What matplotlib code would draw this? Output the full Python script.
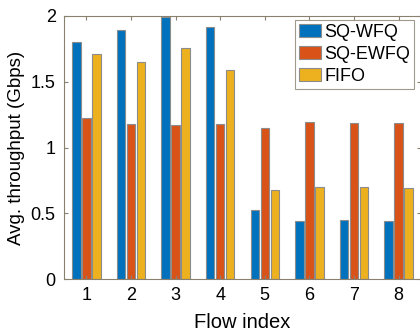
import numpy as np
import matplotlib
matplotlib.use("Agg")
import matplotlib.pyplot as plt

plt.rcParams['font.family'] = ['Liberation Sans', 'DejaVu Sans']

flows = [1, 2, 3, 4, 5, 6, 7, 8]
sq_wfq = [1.80, 1.89, 1.99, 1.92, 0.525, 0.44, 0.445, 0.443]
sq_ewfq = [1.225, 1.18, 1.17, 1.18, 1.15, 1.195, 1.19, 1.19]
fifo = [1.71, 1.65, 1.76, 1.59, 0.677, 0.697, 0.70, 0.69]
labels = ['SQ-WFQ', 'SQ-EWFQ', 'FIFO']
colors = ['#0072BD', '#D95319', '#EDB120']

fig = plt.figure(figsize=(4.2, 3.33), dpi=100)
ax = fig.add_axes([64/420, 1 - 279/333, 357/420, 263/333])

x = np.array(flows)
off = 0.225
w = 0.19
for i, (vals, lab, c) in enumerate(zip([sq_wfq, sq_ewfq, fifo], labels, colors)):
    ax.bar(x + (i - 1) * off, vals, w, color=c, edgecolor='#8c8c8c', linewidth=0.8, label=lab)

ax.set_xlim(0.5, 8.5)
ax.set_ylim(0, 2)
ax.set_xticks(flows)
ax.set_yticks([0, 0.5, 1, 1.5, 2])
ax.set_yticklabels(['0', '0.5', '1', '1.5', '2'])
ax.tick_params(direction='in', length=3, labelsize=13, top=True, right=True,
               color='#8a8070', pad=6)
for s in ax.spines.values():
    s.set_color('#8a8070')
    s.set_linewidth(0.8)

ax.set_xlabel('Flow index', fontsize=14.5, labelpad=6)
ax.set_ylabel('Avg. throughput (Gbps)', fontsize=13.5, labelpad=4)

leg = ax.legend(loc='upper right', fontsize=13, frameon=True, fancybox=False,
                edgecolor='#8a8070', borderpad=0.2, handlelength=1.27, handleheight=0.78,
                handletextpad=0.17, labelspacing=0.28, borderaxespad=0,
                bbox_to_anchor=(414/420, 1 - 20/333), bbox_transform=fig.transFigure)
leg.get_frame().set_linewidth(0.8)

fig.savefig('out.png', dpi=100)
